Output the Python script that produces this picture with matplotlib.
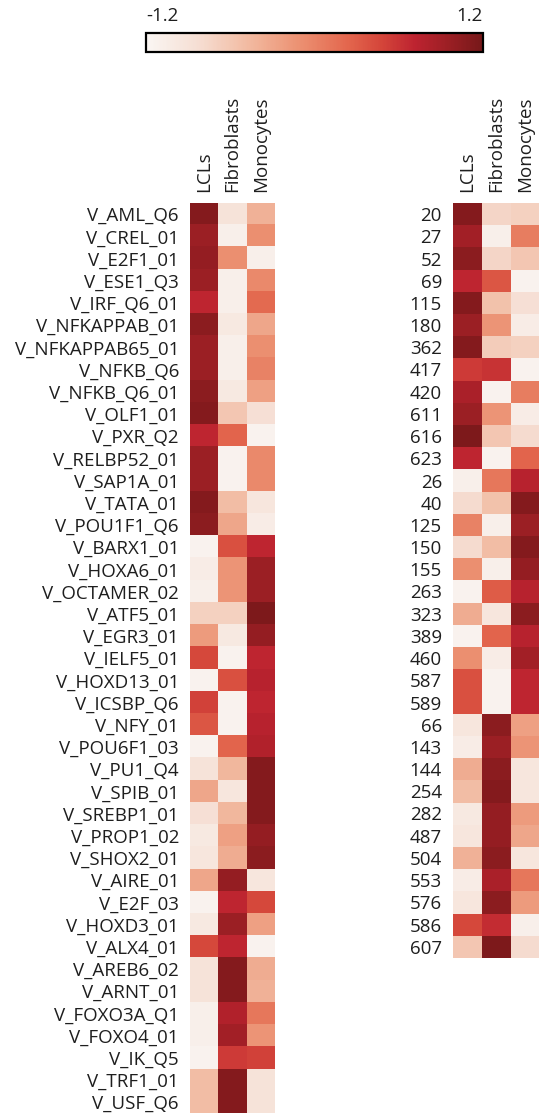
import numpy as np
import matplotlib
matplotlib.use("Agg")
import matplotlib.pyplot as plt
from matplotlib.colors import LinearSegmentedColormap

plt.rcParams['font.family'] = ['Open Sans', 'DejaVu Sans']

# Cell types (columns) ##########################################################
cell_types = ['LCLs', 'Fibroblasts', 'Monocytes']

# Motif heatmap ################################################################
motif_labels = ['V_AML_Q6', 'V_CREL_01', 'V_E2F1_01', 'V_ESE1_Q3', 'V_IRF_Q6_01',
                'V_NFKAPPAB_01', 'V_NFKAPPAB65_01', 'V_NFKB_Q6', 'V_NFKB_Q6_01',
                'V_OLF1_01', 'V_PXR_Q2', 'V_RELBP52_01', 'V_SAP1A_01', 'V_TATA_01',
                'V_POU1F1_Q6', 'V_BARX1_01', 'V_HOXA6_01', 'V_OCTAMER_02',
                'V_ATF5_01', 'V_EGR3_01', 'V_IELF5_01', 'V_HOXD13_01', 'V_ICSBP_Q6',
                'V_NFY_01', 'V_POU6F1_03', 'V_PU1_Q4', 'V_SPIB_01', 'V_SREBP1_01',
                'V_PROP1_02', 'V_SHOX2_01', 'V_AIRE_01', 'V_E2F_03', 'V_HOXD3_01',
                'V_ALX4_01', 'V_AREB6_02', 'V_ARNT_01', 'V_FOXO3A_Q1', 'V_FOXO4_01',
                'V_IK_Q5', 'V_TRF1_01', 'V_USF_Q6']
motif_lcl  = [1.10, 0.95, 1.00, 0.95, 0.70, 1.05, 0.95, 0.95, 1.05, 1.10,
              0.70, 0.95, 0.95, 1.10, 1.05, -1.15, -1.05, -1.10, -0.70, -0.20,
              0.45, -1.15, 0.50, 0.35, -1.15, -0.90, -0.30, -0.85, -1.00, -0.95,
              -0.30, -1.15, -1.00, 0.45, -0.90, -0.90, -1.10, -1.10, -1.15, -0.50,
              -0.50]
motif_fib  = [-0.90, -1.10, -0.10, -1.10, -1.10, -1.00, -1.10, -1.10, -1.00, -0.60,
              0.25, -1.15, -1.15, -0.50, -0.30, 0.40, -0.15, -0.15, -0.70, -1.00,
              -1.15, 0.40, -1.15, -1.15, 0.25, -0.45, -0.95, -0.45, -0.25, -0.35,
              1.00, 0.70, 0.95, 0.70, 1.10, 1.10, 0.80, 0.90, 0.55, 1.10,
              1.10]
motif_mono = [-0.40, -0.10, -1.10, -0.05, 0.20, -0.30, -0.10, 0.00, -0.25, -0.85,
              -1.15, -0.05, -0.05, -0.95, -1.05, 0.70, 0.95, 0.95, 1.15, 1.00,
              0.70, 0.75, 0.70, 0.75, 0.80, 1.10, 1.10, 1.10, 1.00, 1.05,
              -0.95, 0.45, -0.25, -1.15, -0.35, -0.40, 0.10, -0.15, 0.50, -0.90,
              -0.90]

# Cluster heatmap ##############################################################
cluster_labels = ['20', '27', '52', '69', '115', '180', '362', '417', '420', '611',
                  '616', '623', '26', '40', '125', '150', '155', '263', '323', '389',
                  '460', '587', '589', '66', '143', '144', '254', '282', '487', '504',
                  '553', '576', '586', '607']
cluster_lcl  = [1.10, 0.90, 1.05, 0.70, 1.10, 0.95, 1.10, 0.55, 0.85, 0.95,
                1.15, 0.70, -1.10, -0.80, 0.00, -0.80, -0.10, -1.15, -0.35, -1.15,
                -0.10, 0.40, 0.40, -0.95, -1.05, -0.35, -0.50, -1.00, -0.95, -0.40,
                -1.05, -0.95, 0.45, -0.60]
cluster_fib  = [-0.75, -1.10, -0.75, 0.35, -0.55, -0.15, -0.65, 0.60, -1.15, -0.15,
                -0.60, -1.15, 0.10, -0.55, -1.10, -0.50, -1.10, 0.30, -0.95, 0.25,
                -1.05, -1.15, -1.15, 1.05, 0.95, 1.05, 1.10, 1.00, 1.00, 1.05,
                0.85, 1.05, 0.65, 1.15]
cluster_mono = [-0.70, 0.05, -0.60, -1.15, -0.85, -1.05, -0.70, -1.15, 0.05, -1.05,
                -0.80, 0.25, 0.75, 1.10, 0.95, 1.10, 1.00, 0.75, 1.05, 0.75,
                0.90, 0.70, 0.70, -0.25, -0.15, -0.95, -0.95, -0.20, -0.30, -0.95,
                0.10, -0.20, -1.10, -0.80]

vmin, vmax = -1.2, 1.2

cmap = LinearSegmentedColormap.from_list(
    'whitered', [(0.00, '#faf6f3'), (0.15, '#f6dfd4'), (0.30, '#f2bba2'),
                 (0.45, '#ec9273'), (0.60, '#e3664d'), (0.70, '#d4453a'),
                 (0.80, '#bd2330'), (0.90, '#9b1f24'), (1.00, '#761819')])

W, H, DPI = 539, 1115, 100
fig = plt.figure(figsize=(W / DPI, H / DPI), dpi=DPI)
FS = 13.5

def px_axes(x0, y0, x1, y1):  # axes from pixel box (top-left origin)
    return fig.add_axes([x0 / W, 1 - y1 / H, (x1 - x0) / W, (y1 - y0) / H])

def heatmap(ax, rows, columns):
    data = np.column_stack(columns)
    im = ax.imshow(data, cmap=cmap, vmin=vmin, vmax=vmax, aspect='auto',
                   interpolation='nearest')
    ax.set_yticks(range(len(rows)))
    ax.set_yticklabels(rows, fontsize=FS)
    ax.set_xticks(range(len(cell_types)))
    ax.set_xticklabels(cell_types, rotation=90, fontsize=FS)
    ax.xaxis.tick_top()
    ax.tick_params(length=0, pad=8, colors='#1e1e1e')
    for s in ax.spines.values():
        s.set_visible(False)
    return im

row_h = 22.2
ax1 = px_axes(190, 203, 275, 203 + row_h * len(motif_labels))
im = heatmap(ax1, motif_labels, [motif_lcl, motif_fib, motif_mono])

ax2 = px_axes(453, 203, 540, 203 + row_h * len(cluster_labels))
heatmap(ax2, cluster_labels, [cluster_lcl, cluster_fib, cluster_mono])

# Colour bar across the top
cax = px_axes(146, 33, 483, 52)
cb = fig.colorbar(im, cax=cax, orientation='horizontal')
cb.set_ticks([vmin, vmax])
cb.set_ticklabels(['-1.2', '1.2'])
cax.xaxis.set_ticks_position('top')
cax.tick_params(length=0, pad=6, labelsize=FS, colors='#1e1e1e')
labs = cax.get_xticklabels()
labs[0].set_ha('left')
labs[1].set_ha('right')
cb.outline.set_linewidth(1.6)
cb.outline.set_edgecolor('black')

fig.savefig('out.png', dpi=DPI)
